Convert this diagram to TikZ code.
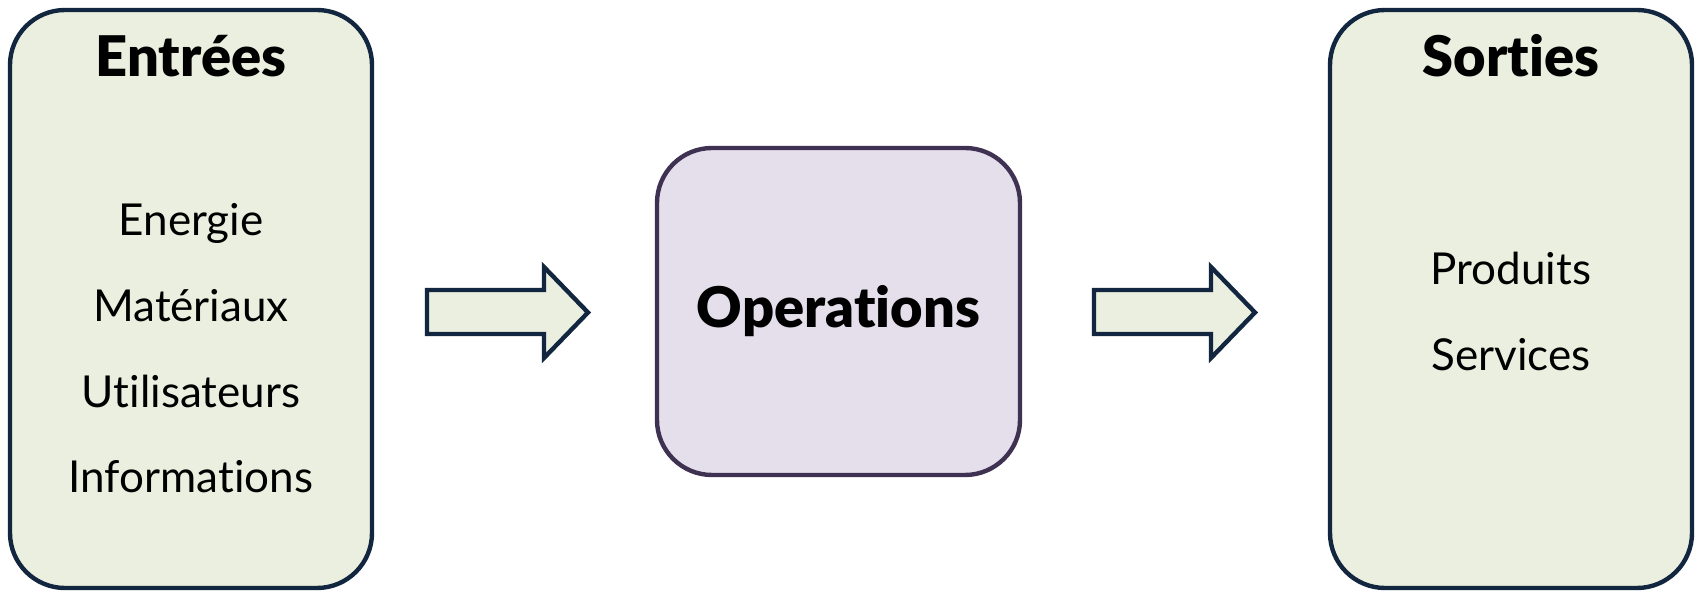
\documentclass[tikz,border=0pt]{standalone}
\usepackage{fontspec}
\setmainfont[Ligatures=NoCommon,BoldFont={Lato Black}]{Lato}
\definecolor{greenfill}{HTML}{EBEFDF}
\definecolor{navy}{HTML}{12263F}
\definecolor{purplefill}{HTML}{E5DFEC}
\definecolor{purpleline}{HTML}{3F3151}
\begin{document}
\begin{tikzpicture}[x=0.5pt,y=-0.5pt,
  panel/.style={draw=navy,fill=greenfill,line width=2.2pt,rounded corners=27.5pt,inner sep=0pt,minimum width=181pt,minimum height=289pt},
  opbox/.style={draw=purpleline,fill=purplefill,line width=2.2pt,rounded corners=27.5pt,inner sep=0pt,minimum width=181.5pt,minimum height=163.5pt},
  blockarrow/.style={draw=navy,fill=greenfill,line width=2.2pt,line join=miter},
  head/.style={anchor=base,inner sep=0pt,font=\fontsize{28pt}{33pt}\selectfont\bfseries},
  item/.style={anchor=base,inner sep=0pt,font=\fontsize{22pt}{26pt}\selectfont}]
\useasboundingbox (0,0) rectangle (1698,592);
\node[panel] (inputs) at (191,299) {};
\node[opbox] (ops) at (838.5,311.5) {};
\node[panel] (outputs) at (1511,299) {};
\node[head] (hin) at (191,77) {Entrées};
\node[item] (i1) at (191,236) {Energie};
\node[item] (i2) at (191,322) {Matériaux};
\node[item] (i3) at (191,408) {Utilisateurs};
\node[item] (i4) at (191,493) {Informations};
\node[head] (hops) at (838.5,328) {Operations};
\node[head] (hout) at (1511,77) {Sorties};
\node[item] (o1) at (1511,285) {Produits};
\node[item] (o2) at (1511,371) {Services};
\draw[blockarrow] (427,290) -- (544,290) -- (544,267) -- (588,312.5) -- (544,358) -- (544,334) -- (427,334) -- cycle;
\draw[blockarrow] (1094,290) -- (1211,290) -- (1211,267) -- (1255,312.5) -- (1211,358) -- (1211,334) -- (1094,334) -- cycle;
\end{tikzpicture}
\end{document}
